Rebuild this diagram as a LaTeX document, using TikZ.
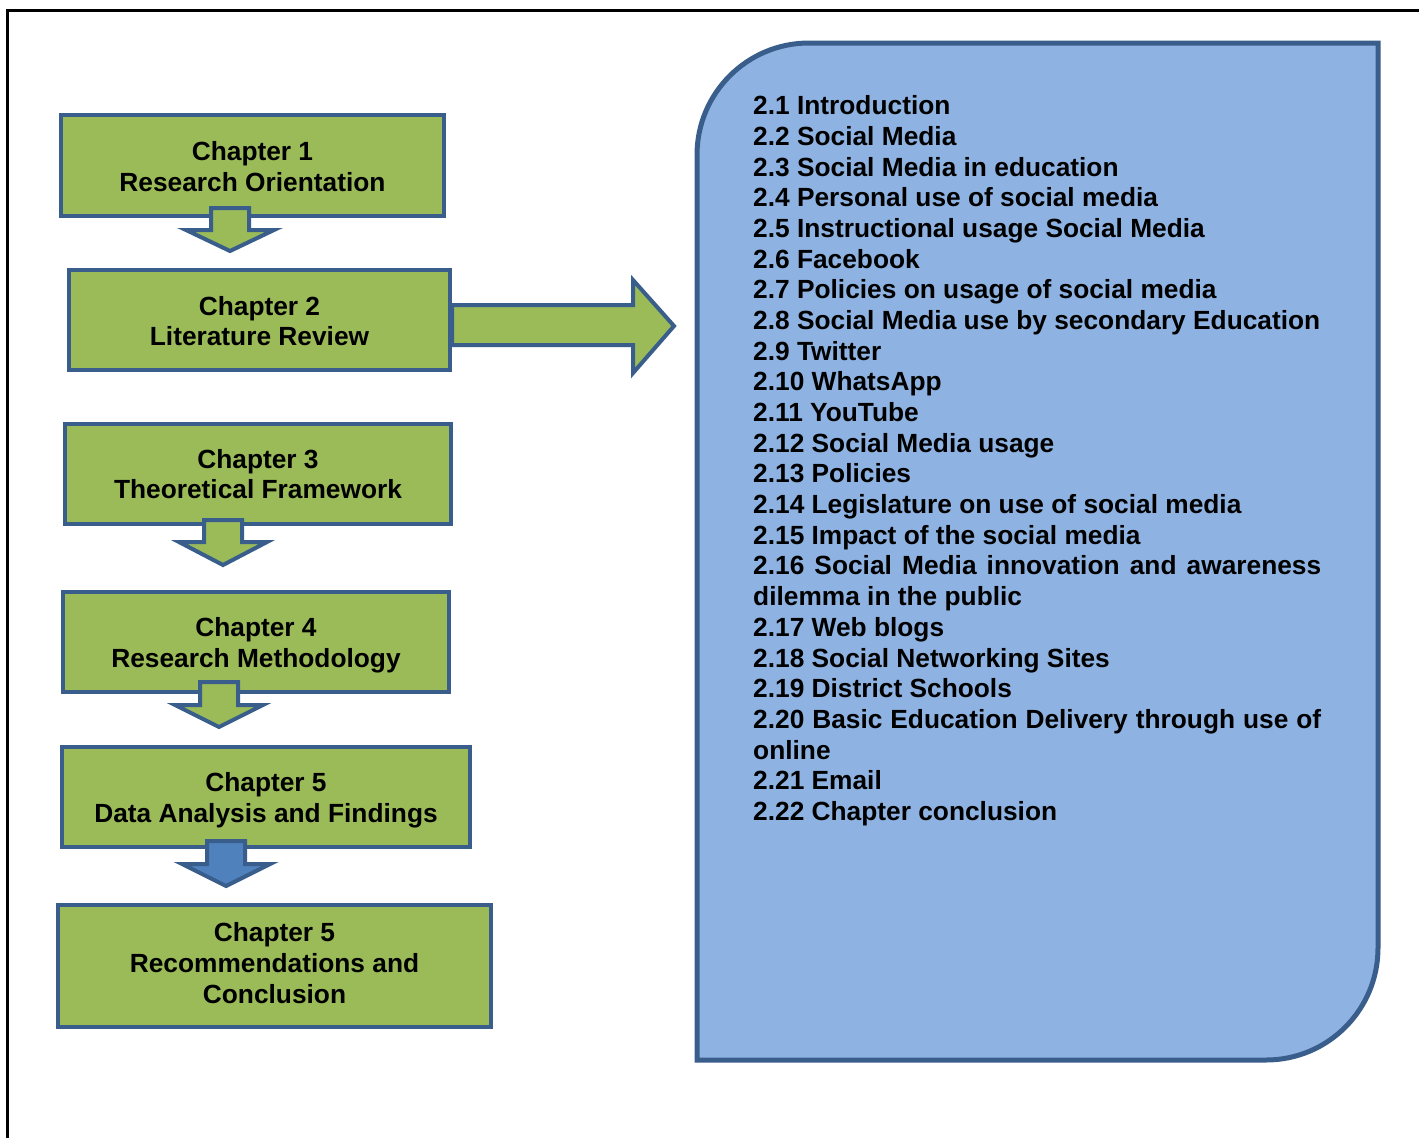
\documentclass[tikz,border=0pt]{standalone}
\usepackage{fontspec}
\setmainfont{Liberation Sans}
\begin{document}
\begin{tikzpicture}[x=1pt,y=-1pt,
  chapbox/.style={draw=edgeblue, line width=4pt, fill=leafgreen, inner sep=0pt,
    align=center, font=\fontsize{26.3}{30.6}\selectfont\bfseries},
  blockarrow/.style={draw=edgeblue, line width=4pt, line join=miter, fill=leafgreen},
  panel/.style={draw=edgeblue, line width=5pt, line join=miter, fill=panelblue}]
\definecolor{leafgreen}{HTML}{9BBB59}
\definecolor{edgeblue}{HTML}{3A5E8B}
\definecolor{panelblue}{HTML}{8EB3E2}
\definecolor{arrowblue}{HTML}{4F81BD}
\useasboundingbox (0,0) rectangle (1419,1138);
\fill[white] (0,0) rectangle (1419,1138);
% page frame
\draw[line width=3pt] (7,1138) -- (7,10) -- (1419,10);

% down block arrow: centre x, shaft top, head top, tip
\newcommand\chapdown[5][blockarrow]{%
  \draw[#1] (#2-19,#3) -- (#2+19,#3) -- (#2+19,#4) -- (#2+44,#4) -- (#2,#5)
    -- (#2-44,#4) -- (#2-19,#4) -- cycle;}
% a wrapped outline line, spread to the full text width
\newcommand\fullline[1]{\makebox[568pt][s]{#1}}
% centred chapter title, nudged vertically: shift, width, text
\newcommand\chaptitle[3]{\raisebox{#1}[\height][\depth]{\parbox{#2}{\centering #3}}}

% arrow to the outline panel
\draw[blockarrow] (452,305) -- (633,305) -- (633,280) -- (674,326) -- (633,373)
  -- (633,345) -- (452,345) -- cycle;

% chapter boxes
\node[chapbox, minimum width=383pt, minimum height=101pt] (c1) at (252.5,165.5)
  {\chaptitle{-1pt}{383pt}{Chapter 1\\Research Orientation}};
\node[chapbox, minimum width=381pt, minimum height=100pt] (c2) at (259.5,320)
  {\chaptitle{-1pt}{381pt}{Chapter 2\\Literature Review}};
\node[chapbox, minimum width=386pt, minimum height=100pt] (c3) at (258,474)
  {\chaptitle{0pt}{386pt}{Chapter 3\\Theoretical Framework}};
\node[chapbox, minimum width=386pt, minimum height=100pt] (c4) at (256,642)
  {\chaptitle{-3pt}{386pt}{Chapter 4\\Research Methodology}};
\node[chapbox, minimum width=408pt, minimum height=100pt] (c5) at (266,797)
  {\chaptitle{-3pt}{408pt}{Chapter 5\\Data Analysis and Findings}};
\node[chapbox, minimum width=433pt, minimum height=122pt] (c6) at (274.5,966)
  {\chaptitle{3pt}{433pt}{Chapter 5\\Recommendations and\\Conclusion}};

% arrows between chapters
\chapdown{230}{208}{230}{251}
\chapdown{223}{520}{542}{565}
\chapdown{219}{682}{705}{727}
\chapdown[blockarrow, fill=arrowblue]{226}{841}{864}{886}

% outline panel of chapter 2
\draw[panel] (697,1060) -- (697,155) .. controls (697,93.1) and (747.1,43) .. (809,43)
  -- (1378,43) -- (1378,948) .. controls (1378,1009.9) and (1327.9,1060) .. (1266,1060)
  -- cycle;
\node[anchor=north west, inner sep=0pt, align=left,
  font=\fontsize{26.3}{30.68}\selectfont\bfseries] (outline) at (753,95.5) {%
2.1 Introduction\\
2.2 Social Media\\
2.3 Social Media in education\\
2.4 Personal use of social media\\
2.5 Instructional usage Social Media\\
2.6 Facebook\\
2.7 Policies on usage of social media\\
2.8 Social Media use by secondary Education\\
2.9 Twitter\\
2.10 WhatsApp\\
2.11 YouTube\\
2.12 Social Media usage\\
2.13 Policies\\
2.14 Legislature on use of social media\\
2.15 Impact of the social media\\
\fullline{2.16 Social Media innovation and awareness}\\
dilemma in the public\\
2.17 Web blogs\\
2.18 Social Networking Sites\\
2.19 District Schools\\
\fullline{2.20 Basic Education Delivery through use of}\\
online\\
2.21 Email\\
2.22 Chapter conclusion};
\end{tikzpicture}
\end{document}
